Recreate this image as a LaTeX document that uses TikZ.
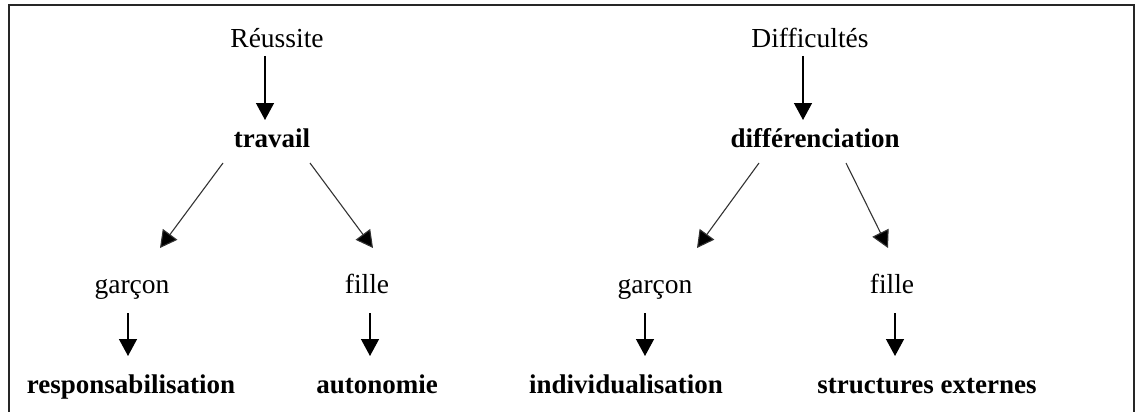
\documentclass[tikz,border=0pt]{standalone}
\usepackage{fontspec}
\setmainfont{Liberation Serif}
\usetikzlibrary{arrows.meta,calc}
\tikzset{
  lbl/.style={inner sep=0pt, anchor=base, font=\fontsize{27.5}{32}\selectfont},
  blbl/.style={lbl, font=\fontsize{27}{32}\selectfont\bfseries},
  varr/.style={line width=1.4pt, -{Triangle[width=18pt,length=17pt]}},
  darr/.style={line width=1.1pt, draw=black!80, -{Triangle[width=18pt,length=17pt,fill=black]}},
  frame/.style={line width=1.4pt, draw=black!85}
}
\begin{document}
\begin{tikzpicture}[x=1pt,y=-1pt]
\useasboundingbox (0,0) rectangle (1138,412);
\draw[frame] (9,412) -- (9,5) -- (1134,5) -- (1134,412);
% nodes
\node[lbl]  (reu)    at (277,48)  {Réussite};
\node[blbl] (trav)   at (272,147) {travail};
\node[lbl]  (dif)    at (810,48)  {Difficultés};
\node[blbl] (diff)   at (815,147) {différenciation};
\node[lbl]  (g1)     at (132,293) {garçon};
\node[lbl]  (f1)     at (367,293) {fille};
\node[lbl]  (g2)     at (655,293) {garçon};
\node[lbl]  (f2)     at (892,293) {fille};
\node[blbl] (resp)   at (131,393) {responsabilisation};
\node[blbl] (auto)   at (377,393) {autonomie};
\node[blbl] (indiv)  at (626,393) {individualisation};
\node[blbl] (struct) at (927,393) {structures externes};
% connectors
\draw[varr] ($(reu.base)+(-12,8)$) -- ($(trav.base)+(-7,-27)$);
\draw[varr] ($(dif.base)+(-7,8)$) -- ($(diff.base)+(-12,-27)$);
\draw[darr] ($(trav.base)+(-49,16)$) -- ($(g1.base)+(28,-45)$);
\draw[darr] ($(trav.base)+(38,16)$) -- ($(f1.base)+(6,-45)$);
\draw[darr] ($(diff.base)+(-56,16)$) -- ($(g2.base)+(42,-45)$);
\draw[darr] ($(diff.base)+(31,16)$) -- ($(f2.base)+(-4,-45)$);
\draw[varr] ($(g1.base)+(-4,20)$) -- ($(resp.base)+(-3,-37)$);
\draw[varr] ($(f1.base)+(3,20)$) -- ($(auto.base)+(-7,-37)$);
\draw[varr] ($(g2.base)+(-10,20)$) -- ($(indiv.base)+(19,-37)$);
\draw[varr] ($(f2.base)+(3,20)$) -- ($(struct.base)+(-32,-37)$);
\end{tikzpicture}
\end{document}
